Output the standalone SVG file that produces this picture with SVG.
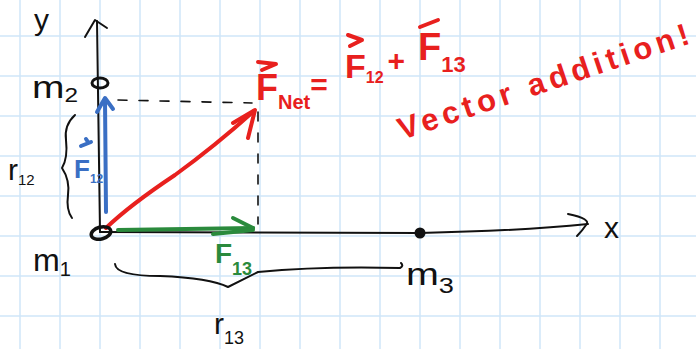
<svg xmlns="http://www.w3.org/2000/svg" width="696" height="349" viewBox="0 0 696 349">
<defs>
<style>
.grid line{stroke:#cfe6f8;stroke-width:1.5}
.ink{fill:none;stroke:#111;stroke-width:2;stroke-linecap:round;stroke-linejoin:round}
.red{fill:none;stroke:#e8201e;stroke-width:4;stroke-linecap:round;stroke-linejoin:round}
.blue{fill:none;stroke:#3a6fc4;stroke-width:4;stroke-linecap:round;stroke-linejoin:round}
.green{fill:none;stroke:#2a8a3c;stroke-width:4;stroke-linecap:round;stroke-linejoin:round}
.dash{fill:none;stroke:#111;stroke-width:1.6;stroke-dasharray:9 12;stroke-linecap:round}
text{font-family:"Liberation Sans","DejaVu Sans",sans-serif}
.tb{fill:#111}
.tr{fill:#e8201e;font-weight:bold}
.tbl{fill:#3a6fc4;font-weight:bold}
.tg{fill:#2a8a3c;font-weight:bold}
</style>
</defs>
<rect width="696" height="349" fill="#ffffff"/>
<g class="grid">
<line x1="20" y1="0" x2="20" y2="349"/><line x1="60" y1="0" x2="60" y2="349"/><line x1="100" y1="0" x2="100" y2="349"/><line x1="140" y1="0" x2="140" y2="349"/><line x1="180" y1="0" x2="180" y2="349"/><line x1="220" y1="0" x2="220" y2="349"/><line x1="260" y1="0" x2="260" y2="349"/><line x1="300" y1="0" x2="300" y2="349"/><line x1="340" y1="0" x2="340" y2="349"/><line x1="380" y1="0" x2="380" y2="349"/><line x1="420" y1="0" x2="420" y2="349"/><line x1="460" y1="0" x2="460" y2="349"/><line x1="500" y1="0" x2="500" y2="349"/><line x1="540" y1="0" x2="540" y2="349"/><line x1="580" y1="0" x2="580" y2="349"/><line x1="620" y1="0" x2="620" y2="349"/><line x1="660" y1="0" x2="660" y2="349"/>
<line x1="0" y1="36" x2="696" y2="36"/><line x1="0" y1="76" x2="696" y2="76"/><line x1="0" y1="116" x2="696" y2="116"/><line x1="0" y1="156" x2="696" y2="156"/><line x1="0" y1="196" x2="696" y2="196"/><line x1="0" y1="236" x2="696" y2="236"/><line x1="0" y1="276" x2="696" y2="276"/><line x1="0" y1="316" x2="696" y2="316"/>
</g>

<g id="axes">
<path class="ink" d="M100,232 L97,21"/>
<path class="ink" d="M85,37 L95,20 L107,28"/>
<text class="tb" x="34" y="30" font-size="30">y</text>
<path class="ink" d="M100,232 L420,233 Q520,231 588,224"/>
<path class="ink" d="M568,214 Q592,219 586,225 Q582,231 577,236"/>
<text class="tb" x="604" y="238" font-size="30">x</text>
</g>

<g id="connectors">
<path class="dash" d="M118,100 L252,103"/>
<path class="dash" d="M258,112 L258,224" stroke-dasharray="7 14"/>
<g id="F12">
<path class="blue" d="M106,212 L105,100"/>
<path class="blue" d="M97,112 L105,98 L113,109"/>
</g>
<g id="F13">
<path class="green" d="M118,230 L253,228"/>
<path class="green" d="M233,218 L253,228"/>
<path class="green" d="M213,234 L253,230"/>
</g>
<g id="Fnet">
<path class="red" d="M106,228 Q130,205 175,175 Q215,146 254,111"/>
<path class="red" d="M233,123 L255,110 L248,138"/>
</g>
</g>

<g id="m1">
<ellipse cx="101" cy="233" rx="10" ry="6" fill="none" stroke="#111" stroke-width="3.5" transform="rotate(-15 101 233)"/>
<text class="tb" x="33" y="271" font-size="32" textLength="38" lengthAdjust="spacingAndGlyphs">m<tspan font-size="20" dy="5">1</tspan></text>
</g>
<g id="m2">
<ellipse cx="100" cy="83" rx="8" ry="5" fill="none" stroke="#111" stroke-width="3"/>
<text class="tb" x="32" y="98" font-size="32" textLength="46" lengthAdjust="spacingAndGlyphs">m<tspan font-size="20" dy="4">2</tspan></text>
</g>
<g id="m3">
<circle cx="420" cy="233" r="5.5" fill="#111"/>
<text class="tb" x="406" y="285" font-size="32" textLength="48" lengthAdjust="spacingAndGlyphs">m<tspan font-size="22" dy="8">3</tspan></text>
</g>

<g id="r12">
<path class="ink" d="M75,115 Q64,125 66,140 Q68,158 62,168 Q70,180 68,195 Q66,210 72,218"/>
<text class="tb" x="8" y="180" font-size="30">r<tspan font-size="15" dy="5">12</tspan></text>
</g>
<g id="r13">
<path class="ink" d="M115,264 Q116,276 160,276 Q210,278 228,287 Q238,282 258,272 Q320,266 400,268 Q404,266 401,263"/>
<text class="tb" x="214" y="334" font-size="30">r<tspan font-size="18" dy="10">13</tspan></text>
</g>

<g id="label-F12">
<path class="blue" d="M81,146 L91,142 M86,139 L88,142" stroke-width="2.5"/>
<text class="tbl" x="74" y="178" font-size="26">F<tspan font-size="12" dy="5">12</tspan></text>
</g>
<g id="label-F13">
<text class="tg" x="215" y="263" font-size="28">F<tspan font-size="18" dy="12">13</tspan></text>
</g>

<g id="equation">
<path class="red" d="M258,62 L276,64 L262,70" stroke-width="3"/>
<text class="tr" x="256" y="100" font-size="36">F<tspan font-size="20" dy="9">Net</tspan><tspan font-size="30" dy="-14">=</tspan></text>
<path class="red" d="M348,35 L362,40 L350,46" stroke-width="3"/>
<text class="tr" x="345" y="78" font-size="34">F<tspan font-size="16" dy="5">12</tspan><tspan font-size="30" dy="-12" dx="4">+</tspan></text>
<path class="red" d="M420,27 L438,20" stroke-width="3"/>
<text class="tr" x="418" y="60" font-size="38">F<tspan font-size="22" dy="12">13</tspan></text>
</g>

<g id="note">
<text class="tr" x="402" y="140" font-size="31" textLength="305" lengthAdjust="spacing" transform="rotate(-18.5 402 140)">Vector addition!</text>
</g>
</svg>
